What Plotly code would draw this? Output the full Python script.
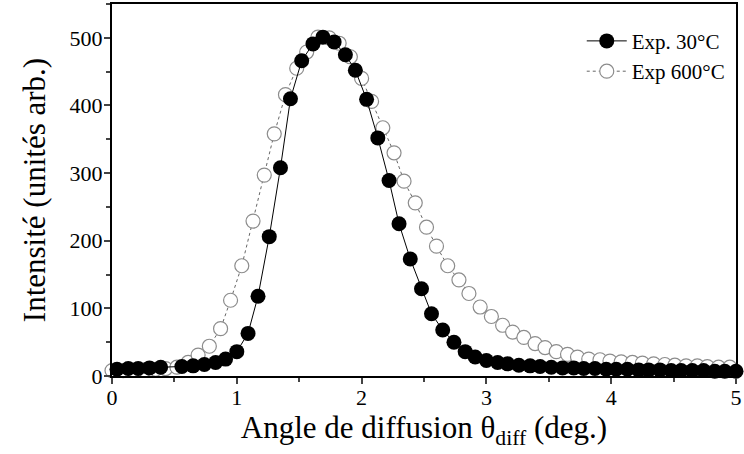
import plotly.graph_objects as go

# Exp. 30°C  (filled circles, solid line)
x_30 = [0.04, 0.13, 0.21, 0.30, 0.39, 0.56, 0.65, 0.74, 0.83, 0.91,
        1.00, 1.09, 1.17, 1.26, 1.35, 1.43, 1.52, 1.61, 1.69, 1.78,
        1.87, 1.95, 2.04, 2.13, 2.22, 2.30, 2.39, 2.48, 2.56, 2.65,
        2.74, 2.83, 2.91, 3.00, 3.09, 3.17, 3.26, 3.35, 3.43, 3.52,
        3.61, 3.70, 3.78, 3.87, 3.96, 4.04, 4.13, 4.22, 4.30, 4.39,
        4.48, 4.56, 4.65, 4.74, 4.83, 4.91, 5.00]
y_30 = [10, 11, 11, 12, 13, 14, 15, 17, 20, 25,
        36, 63, 118, 206, 308, 410, 466, 491, 501, 494,
        475, 452, 409, 352, 289, 225, 173, 129, 92, 68,
        50, 36, 28, 23, 20, 18, 16, 15, 14, 13,
        12, 12, 11, 11, 10, 10, 10, 9, 9, 9,
        8, 8, 8, 8, 7, 7, 7]

# Exp 600°C  (open circles, dotted line)
x_600 = [0.00, 0.09, 0.17, 0.26, 0.35, 0.43, 0.52, 0.61, 0.69, 0.78,
         0.87, 0.95, 1.04, 1.13, 1.22, 1.30, 1.39, 1.48, 1.56, 1.65,
         1.74, 1.82, 1.91, 2.00, 2.08, 2.17, 2.26, 2.34, 2.43, 2.52,
         2.60, 2.69, 2.78, 2.86, 2.95, 3.04, 3.13, 3.21, 3.30, 3.39,
         3.47, 3.56, 3.65, 3.73, 3.82, 3.91, 3.99, 4.08, 4.17, 4.25,
         4.34, 4.43, 4.51, 4.60, 4.69, 4.77, 4.86, 4.95]
y_600 = [8, 8, 9, 9, 10, 11, 13, 20, 31, 44,
         70, 112, 163, 229, 297, 358, 416, 455, 479, 501,
         500, 492, 472, 440, 406, 367, 330, 288, 256, 220,
         192, 163, 142, 122, 102, 88, 75, 65, 57, 48,
         42, 36, 32, 28, 25, 24, 22, 21, 20, 19,
         18, 17, 16, 15, 15, 14, 13, 13]

serif = 'Liberation Serif, Times New Roman, serif'

fig = go.Figure()
fig.add_trace(go.Scatter(x=x_600, y=y_600, mode='lines+markers', name='Exp 600°C',
                         legendgroup='b', cliponaxis=False,
                         line=dict(color='#666666', width=1, dash='dot'),
                         marker=dict(size=14, color='white',
                                     line=dict(color='#8c8c8c', width=1.2))))
fig.add_trace(go.Scatter(x=x_30, y=y_30, mode='lines+markers', name='Exp. 30°C',
                         legendgroup='a', cliponaxis=False,
                         line=dict(color='black', width=1),
                         marker=dict(size=15, color='black')))

fig.update_layout(
    width=744, height=454,
    margin=dict(l=112, r=3, t=2, b=78),
    plot_bgcolor='white', paper_bgcolor='white',
    font=dict(family=serif, color='black', size=22),
    showlegend=True,
    legend=dict(x=0.99, y=0.955, xanchor='right', yanchor='top',
                traceorder='reversed', font=dict(size=21),
                bgcolor='rgba(0,0,0,0)', itemwidth=40,
                tracegroupgap=2),
)
fig.update_xaxes(range=[0, 5], dtick=1, ticks='outside', ticklen=6, tickwidth=2,
                 showline=True, linewidth=2, linecolor='black', mirror=True,
                 showgrid=False, zeroline=False, ticklabeloverflow='allow',
                 ticklabelstandoff=-5,
                 minor=dict(ticks='outside', dtick=0.5, ticklen=4, tickwidth=1.5),
                 title=dict(text='Angle de diffusion θ<sub>diff</sub> (deg.)',
                            font=dict(size=31), standoff=4))
fig.update_yaxes(range=[0, 550], dtick=100, ticks='outside', ticklen=6, tickwidth=2,
                 showline=True, linewidth=2, linecolor='black', mirror=True,
                 showgrid=False, zeroline=False, ticklabelstandoff=-3,
                 minor=dict(ticks='outside', dtick=50, ticklen=4, tickwidth=1.5),
                 title=dict(text='Intensité (unités arb.)', font=dict(size=31),
                            standoff=15))

fig.write_html("out.html", config={'displayModeBar': False},
               post_script="document.body.style.margin='0';")
